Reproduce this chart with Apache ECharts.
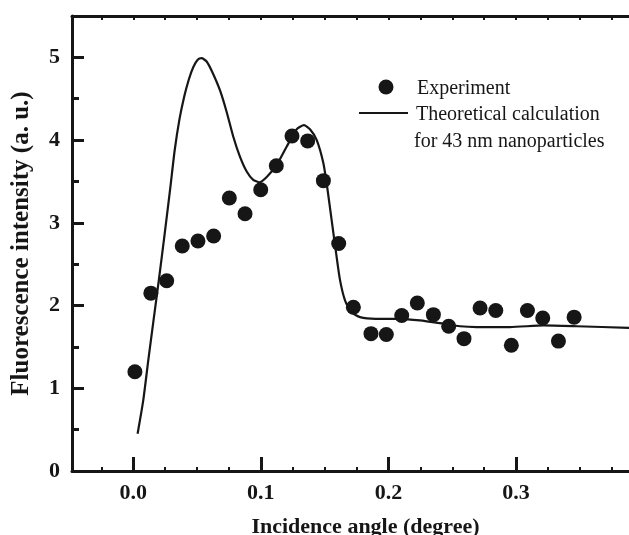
<!DOCTYPE html>
<html>
<head>
<meta charset="utf-8">
<script src="https://cdn.jsdelivr.net/npm/echarts@6/dist/echarts.min.js"></script>
<style>
html,body{margin:0;padding:0;background:#fff;}
#chart{width:629px;height:535px;}
</style>
</head>
<body>
<div id="chart"></div>
<script>
// Experiment data: incidence angle (degree) and fluorescence intensity (a. u.)
const expAngle = [0.0013,0.0138,0.0262,0.0384,0.0507,0.063,0.0753,0.0876,0.0999,0.1121,0.1244,0.1367,0.149,0.161,0.1725,0.1863,0.1983,0.2104,0.2226,0.2352,0.2472,0.2592,0.2718,0.2841,0.2963,0.3089,0.3209,0.3332,0.3455];
const expIntensity = [1.20,2.15,2.30,2.72,2.78,2.84,3.30,3.11,3.40,3.69,4.05,3.99,3.51,2.75,1.98,1.66,1.65,1.88,2.03,1.89,1.75,1.60,1.97,1.94,1.52,1.94,1.85,1.57,1.86];

// Theoretical calculation for 43 nm nanoparticles
const theoAngle = [0.0034,0.0078,0.0118,0.0157,0.0200,0.0245,0.029,0.0325,0.0362,0.040,0.0435,0.047,0.0505,0.0535,0.0575,0.062,0.068,0.0732,0.0784,0.0836,0.0889,0.094,0.0988,0.1046,0.1124,0.1202,0.128,0.1338,0.1385,0.1438,0.149,0.152,0.1555,0.159,0.162,0.166,0.171,0.1777,0.19,0.209,0.2247,0.243,0.256,0.269,0.2953,0.3214,0.3476,0.3886];
const theoIntensity = [0.45,0.85,1.34,1.80,2.30,2.85,3.42,3.88,4.25,4.53,4.73,4.88,4.97,4.99,4.95,4.82,4.60,4.34,4.04,3.80,3.62,3.52,3.49,3.555,3.70,3.92,4.13,4.18,4.13,4.00,3.72,3.43,3.03,2.63,2.31,2.06,1.92,1.86,1.84,1.84,1.82,1.78,1.75,1.74,1.74,1.76,1.75,1.73];

// Ticks
const xMajor = [0, 0.1, 0.2, 0.3];
const xMinor = [-0.025, 0.025, 0.05, 0.075, 0.125, 0.15, 0.175, 0.225, 0.25, 0.275, 0.325, 0.35, 0.375];
const xTop = [-0.025, 0, 0.025, 0.05, 0.075, 0.1, 0.125, 0.15, 0.175, 0.2, 0.225, 0.25, 0.275, 0.3, 0.325, 0.35, 0.375];
const yMajor = [0, 1, 2, 3, 4, 5];
const yMinor = [0.5, 1.5, 2.5, 3.5, 4.5];

const X_MIN = -0.048, X_MAX = 0.3885, Y_MIN = 0, Y_MAX = 5.5;
const FONT = '"Liberation Serif", "Times New Roman", serif';
const INK = '#161616';

const chart = echarts.init(document.getElementById('chart'), null, {renderer: 'canvas'});

const baseX = {type: 'value', min: X_MIN, max: X_MAX, splitLine: {show: false}};
const baseY = {type: 'value', min: Y_MIN, max: Y_MAX, splitLine: {show: false}};

const option = {
  backgroundColor: '#fff',
  animation: false,
  grid: {left: 72, right: 0, top: 16, bottom: 64, containLabel: false, outerBoundsMode: 'none'},
  xAxis: [
    Object.assign({}, baseX, {
      position: 'bottom',
      name: 'Incidence angle (degree)',
      nameLocation: 'middle',
      nameGap: 45,
      nameTextStyle: {fontFamily: FONT, fontWeight: 'bold', fontSize: 22, color: INK, padding: [0, 0, 0, 30]},
      axisLine: {show: true, onZero: false, lineStyle: {color: INK, width: 3}},
      axisTick: {show: true, inside: true, length: 14, lineStyle: {color: INK, width: 3}, customValues: xMajor},
      axisLabel: {show: true, margin: 11, customValues: xMajor, fontFamily: FONT, fontWeight: 'bold', fontSize: 22, color: INK,
        formatter: v => v.toFixed(1)}
    }),
    Object.assign({}, baseX, {
      position: 'bottom',
      axisLine: {show: false, onZero: false},
      axisTick: {show: true, inside: true, length: 4, lineStyle: {color: INK, width: 2}, customValues: xMinor},
      axisLabel: {show: false}
    }),
    Object.assign({}, baseX, {
      position: 'top',
      axisLine: {show: true, onZero: false, lineStyle: {color: INK, width: 3}},
      axisTick: {show: true, inside: true, length: 4, lineStyle: {color: INK, width: 2}, customValues: xTop},
      axisLabel: {show: false}
    })
  ],
  yAxis: [
    Object.assign({}, baseY, {
      position: 'left',
      name: 'Fluorescence intensity (a. u.)',
      nameLocation: 'middle',
      nameGap: 38,
      nameTextStyle: {fontFamily: FONT, fontWeight: 'bold', fontSize: 25, color: INK},
      axisLine: {show: true, onZero: false, lineStyle: {color: INK, width: 3}},
      axisTick: {show: true, inside: true, length: 12, lineStyle: {color: INK, width: 3}, customValues: yMajor},
      axisLabel: {show: true, margin: 12, customValues: yMajor, fontFamily: FONT, fontWeight: 'bold', fontSize: 22, color: INK}
    }),
    Object.assign({}, baseY, {
      position: 'left',
      axisLine: {show: false, onZero: false},
      axisTick: {show: true, inside: true, length: 7, lineStyle: {color: INK, width: 3}, customValues: yMinor},
      axisLabel: {show: false}
    })
  ],
  series: [
    {
      name: 'Theoretical calculation',
      type: 'line',
      xAxisIndex: 0, yAxisIndex: 0,
      data: theoAngle.map((a, i) => [a, theoIntensity[i]]),
      showSymbol: false,
      smooth: 0.2,
      lineStyle: {color: INK, width: 2.2},
      z: 3
    },
    {
      name: 'Experiment',
      type: 'scatter',
      xAxisIndex: 0, yAxisIndex: 0,
      data: expAngle.map((a, i) => [a, expIntensity[i]]),
      symbol: 'circle',
      symbolSize: 15,
      itemStyle: {color: INK, opacity: 1},
      z: 4
    }
  ],
  graphic: [
    {type: 'circle', shape: {cx: 386, cy: 87, r: 7.5}, style: {fill: INK}},
    {type: 'text', left: 417, top: 79, style: {text: 'Experiment', font: '20px ' + FONT, fill: INK}},
    {type: 'line', shape: {x1: 359, y1: 113, x2: 408, y2: 113}, style: {stroke: INK, lineWidth: 2.2}},
    {type: 'text', left: 416, top: 105, style: {text: 'Theoretical calculation', font: '20px ' + FONT, fill: INK}},
    {type: 'text', left: 414, top: 132, style: {text: 'for 43 nm nanoparticles', font: '20px ' + FONT, fill: INK}}
  ]
};

chart.setOption(option);
</script>
</body>
</html>
